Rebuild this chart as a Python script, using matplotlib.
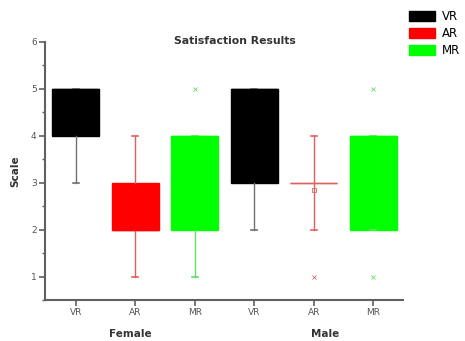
import matplotlib.pyplot as plt
import matplotlib.transforms as mtransforms
from matplotlib.patches import Patch
from matplotlib.ticker import MultipleLocator

# box statistics
labels = ["VR", "AR", "MR", "VR", "AR", "MR"]
groups = ["Female", "Male"]
q1 = [4, 2, 2, 3, 3, 2]
q3 = [5, 3, 4, 5, 3, 4]
med = [5, 2, 4, 5, 3, 4]
whislo = [3, 1, 1, 2, 2, 2]
whishi = [5, 4, 4, 5, 4, 4]
means = [4.5, 2.5, 3, 4, 2.85, 3]
fliers = [[], [], [5], [], [1], [5, 1]]
colors = ["#000000", "#ff0000", "#00ff00", "#000000", "#ff0000", "#00ff00"]
whisk_colors = ["#707070", "#e06060", "#60e060", "#707070", "#e06060", "#60e060"]

fig = plt.figure(figsize=(4.65, 3.41), dpi=100)
ax = fig.add_axes([0.0968, 0.120, 0.770, 0.757])

stats = []
for i in range(len(labels)):
    stats.append(dict(q1=q1[i], q3=q3[i], med=med[i], whislo=whislo[i],
                      whishi=whishi[i], mean=means[i], fliers=fliers[i]))

positions = list(range(1, len(labels) + 1))
for i, s in enumerate(stats):
    ax.bxp([s], positions=[positions[i]], widths=0.79, patch_artist=True,
           showmeans=(i == 4), showfliers=True,
           boxprops=dict(facecolor=colors[i], edgecolor=colors[i] if i != 4 else whisk_colors[i], linewidth=1),
           medianprops=dict(color=colors[i] if i != 4 else whisk_colors[i], linewidth=1),
           whiskerprops=dict(color=whisk_colors[i], linewidth=1),
           capprops=dict(color=whisk_colors[i], linewidth=1.2),
           capwidths=0.1,
           meanprops=dict(marker="s", markersize=2.5, markerfacecolor="none",
                          markeredgecolor=whisk_colors[i], markeredgewidth=0.6),
           flierprops=dict(marker="x", markersize=2.5, markeredgecolor=whisk_colors[i],
                           markeredgewidth=0.6))

ax.set_xlim(0.48, 6.5)
ax.set_ylim(0.5, 6)
ax.set_xticks(positions)
ax.set_xticklabels(labels)
ax.yaxis.set_major_locator(MultipleLocator(1))
ax.yaxis.set_minor_locator(MultipleLocator(0.5))
ax.set_yticks([1, 2, 3, 4, 5, 6])

for side in ["top", "right"]:
    ax.spines[side].set_visible(False)
for side in ["left", "bottom"]:
    ax.spines[side].set_color("#606060")
    ax.spines[side].set_linewidth(1.5)
ax.tick_params(axis="both", which="major", direction="out", length=4, width=1.2,
               color="#606060", labelsize=6.5, labelcolor="#555555", pad=2)
ax.tick_params(axis="y", which="minor", direction="out", length=2.5, width=1,
               color="#606060")
ax.tick_params(axis="x", which="minor", bottom=False)

ax.set_ylabel("Scale", fontsize=7.5, fontweight="bold", color="#333333", labelpad=8)

trans = mtransforms.blended_transform_factory(ax.transData, ax.transAxes)
ax.text(1.91, -0.13, groups[0], transform=trans, ha="center", va="center",
        fontsize=7.5, fontweight="bold", color="#333333")
ax.text(5.19, -0.13, groups[1], transform=trans, ha="center", va="center",
        fontsize=7.5, fontweight="bold", color="#333333")

fig.text(0.505, 0.88, "Satisfaction Results", ha="center", va="center",
         fontsize=7.8, fontweight="bold", color="#333333")

handles = [Patch(facecolor=c, edgecolor=c) for c in colors[:3]]
fig.legend(handles, labels[:3], loc="upper left", bbox_to_anchor=(0.862, 0.995),
           frameon=False, fontsize=8.5, handlelength=2.2, handleheight=1.0,
           labelspacing=0.35, handletextpad=0.6, borderaxespad=0.3)

fig.savefig("out.png", dpi=100)
